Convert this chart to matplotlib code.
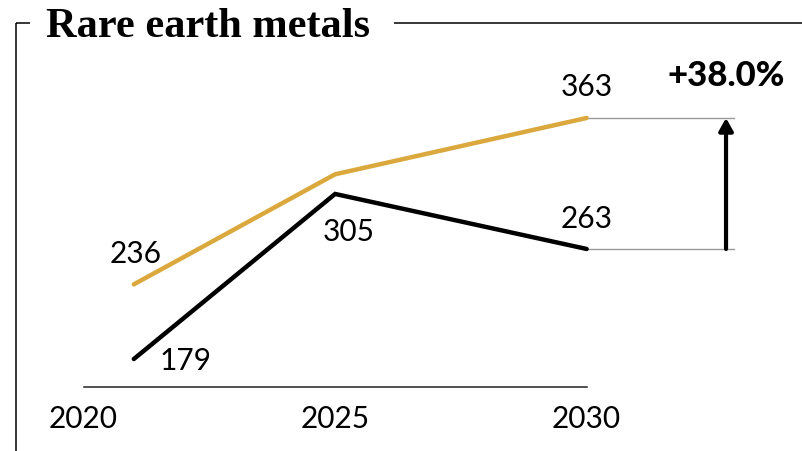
import matplotlib
matplotlib.use("Agg")
import matplotlib.pyplot as plt
from matplotlib.lines import Line2D

# data
years = [2021, 2025, 2030]
gold_vals = [236, 320, 363]
black_vals = [179, 305, 263]
tick_years = [2020, 2025, 2030]
change_label = "+38.0%"
title = "Rare earth metals"

GOLD = "#DAA83C"
W, H = 802, 452

fig = plt.figure(figsize=(W / 100, H / 100), dpi=100)
ax = fig.add_axes([0, 0, 1, 1])
ax.set_xlim(2018.34, 2034.28)
ax.set_ylim(108.8, 453.8)
ax.axis("off")

def fx(px):
    return px / W

def fy(py):
    return 1 - py / H

# frame around the title
for xs, ys in [((16, 16), (24, 452)), ((16, 30), (24, 24)), ((394, 802), (24, 24))]:
    fig.add_artist(Line2D([fx(x) for x in xs], [fy(y) for y in ys],
                          color="black", lw=1.1, solid_capstyle="butt"))

fig.text(fx(46), fy(37), title, family="Liberation Serif", weight="bold",
         fontsize=30.5, va="baseline", ha="left")

# baseline and year labels
base = 157.3
ax.plot([tick_years[0], tick_years[-1]], [base, base], color="#222222", lw=1.1)
for yr in tick_years:
    ax.annotate(str(yr), (yr, base), xytext=(0, -28.6), textcoords="offset points",
                ha="center", va="baseline", family="Lato", fontsize=21.5)

ax.plot(years, gold_vals, color=GOLD, lw=3.2, solid_capstyle="round",
        solid_joinstyle="miter", zorder=3)
ax.plot(years, black_vals, color="black", lw=3.2, solid_capstyle="round",
        solid_joinstyle="miter", zorder=3)

# guides for the 2030 gap
arrow_x = 2032.77
for v in (gold_vals[-1], black_vals[-1]):
    ax.plot([years[-1], 2032.92], [v, v], color="#9a9a9a", lw=1.0, zorder=1)
ax.annotate("", xy=(arrow_x, gold_vals[-1]), xytext=(arrow_x, black_vals[-1]),
            arrowprops=dict(arrowstyle="-|>,head_length=0.75,head_width=0.42",
                            color="black", lw=3.0, shrinkA=0, shrinkB=0))
ax.annotate(change_label, (arrow_x, gold_vals[-1]), xytext=(0, 24),
            textcoords="offset points", ha="center", va="baseline",
            family="Lato", weight="black", fontsize=25)

# value labels (offsets in points)
labels = [
    (years[0], gold_vals[0], 1.5, 16),
    (years[-1], gold_vals[-1], 0, 16.5),
    (years[1], black_vals[1], 10, -33),
    (years[-1], black_vals[-1], 0, 16),
    (years[0], black_vals[0], 37, -7.2),
]
for x, v, dx, dy in labels:
    ax.annotate(str(v), (x, v), xytext=(dx, dy), textcoords="offset points",
                ha="center", va="baseline", family="Lato", fontsize=21.5)

fig.savefig("out.png", dpi=100)
